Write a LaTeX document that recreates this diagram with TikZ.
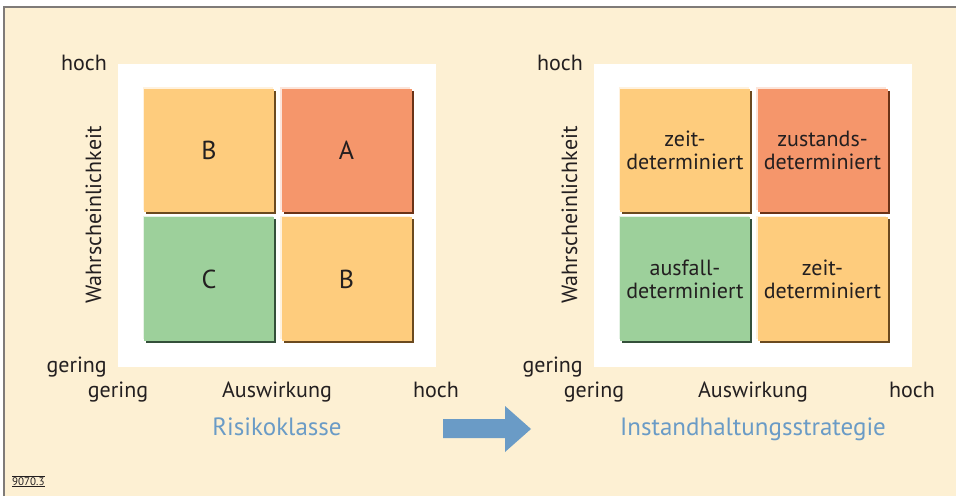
\documentclass[tikz,border=0pt]{standalone}
\usepackage{fontspec}
\setmainfont{PT Sans}
\usetikzlibrary{shadows}
\definecolor{bgcream}{HTML}{FDF0D3}
\definecolor{framegray}{HTML}{7F7B78}
\definecolor{textdark}{HTML}{231F20}
\definecolor{riskblue}{HTML}{6A9BC6}
\definecolor{cellorange}{HTML}{FECC7D}
\definecolor{cellred}{HTML}{F5966B}
\definecolor{cellgreen}{HTML}{9DD09B}
\definecolor{shadeorange}{HTML}{6B4A1F}
\definecolor{shadered}{HTML}{6B3317}
\definecolor{shadegreen}{HTML}{34503A}

\begin{document}
\begin{tikzpicture}[
    x=1pt, y=1pt,
    font=\fontsize{22}{23}\selectfont, text=textdark,
    panel/.style={fill=white, minimum width=318pt, minimum height=303pt, inner sep=0pt},
    cell/.style={minimum width=130pt, minimum height=123pt, inner sep=0pt, align=center},
    midcell/.style={cell, fill=cellorange,
      general shadow={fill=cellorange!25!white, shadow xshift=-1.5pt, shadow yshift=1.5pt},
      general shadow={fill=shadeorange, shadow xshift=2pt, shadow yshift=-2pt}},
    highcell/.style={cell, fill=cellred,
      general shadow={fill=cellred!25!white, shadow xshift=-1.5pt, shadow yshift=1.5pt},
      general shadow={fill=shadered, shadow xshift=2pt, shadow yshift=-2pt}},
    lowcell/.style={cell, fill=cellgreen,
      general shadow={fill=cellgreen!25!white, shadow xshift=-1.5pt, shadow yshift=1.5pt},
      general shadow={fill=shadegreen, shadow xshift=2pt, shadow yshift=-2pt}},
    letter/.style={font=\fontsize{26}{28}\selectfont},
    ylabel/.style={anchor=base east, inner sep=0pt},
    axislabel/.style={anchor=base},
    title/.style={anchor=base, text=riskblue, font=\fontsize{25}{26}\selectfont}
  ]
    \useasboundingbox (0,0) rectangle (956,496);
    \fill[bgcream] (4,0) rectangle (956,489);
    \draw[framegray, line width=1.2pt] (4,0) -- (4,489) -- (956,489);

    % Risikoklasse
    \node[panel] (riskpanel) at (277,280.5) {};
    \node[midcell, letter] (riskB1) at (209,345.5) {B};
    \node[highcell, letter] (riskA) at (346.5,345.5) {A};
    \node[lowcell, letter] (riskC) at (209,217) {C};
    \node[midcell, letter] (riskB2) at (346.5,217) {B};

    \node[ylabel] (riskhigh) at (107,425) {hoch};
    \node[ylabel] (risklow) at (107,124) {gering};
    \node[rotate=90, anchor=base] (riskprob) at (101,281) {Wahrscheinlichkeit};
    \node[axislabel] (riskxlow) at (118,99) {gering};
    \node[axislabel] (riskimpact) at (277,99) {Auswirkung};
    \node[axislabel] (riskxhigh) at (436,99) {hoch};
    \node[title] (risktitle) at (277,61) {Risikoklasse};

    % Pfeil
    \fill[riskblue] (443,77) -- (505,77) -- (505,90) -- (531,67) -- (505,44)
      -- (505,58) -- (443,58) -- cycle;

    % Instandhaltungsstrategie
    \node[panel] (stratpanel) at (753,280.5) {};
    \node[midcell] (stratTime1) at (685,345.5) {zeit-\\determiniert};
    \node[highcell] (stratState) at (822.5,345.5) {zustands-\\determiniert};
    \node[lowcell] (stratFail) at (685,217) {ausfall-\\determiniert};
    \node[midcell] (stratTime2) at (822.5,217) {zeit-\\determiniert};

    \node[ylabel] (strathigh) at (583,425) {hoch};
    \node[ylabel] (stratlow) at (583,124) {gering};
    \node[rotate=90, anchor=base] (stratprob) at (577,281) {Wahrscheinlichkeit};
    \node[axislabel] (stratxlow) at (594,99) {gering};
    \node[axislabel] (stratimpact) at (753,99) {Auswirkung};
    \node[axislabel] (stratxhigh) at (912,99) {hoch};
    \node[title] (strattitle) at (753,61) {Instandhaltungsstrategie};

    \node[anchor=base west, font=\fontsize{11}{12}\selectfont, inner sep=0pt] (figno) at (12,11)
      {$\overline{\underline{\mbox{9070.3}}}$};
  \end{tikzpicture}
\end{document}
